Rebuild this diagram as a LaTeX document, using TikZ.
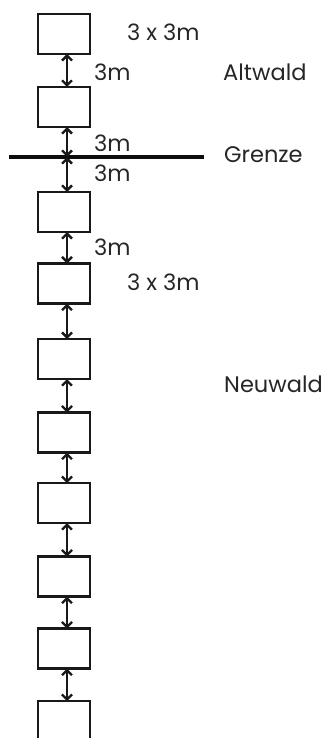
\documentclass[tikz,border=0pt]{standalone}
\usepackage{fontspec}
\setmainfont{Poppins}
\usetikzlibrary{arrows.meta}
\begin{document}
\begin{tikzpicture}[x=1pt,y=-1pt,
  plot/.style={draw=black!90,line width=2.6pt,minimum width=52pt,minimum height=40pt,inner sep=0pt,outer sep=0pt},
  arr/.style={line width=2.3pt,draw=black!90,{Straight Barb[length=5pt,width=10pt]}-{Straight Barb[length=5pt,width=10pt]}},
  lbl/.style={font=\fontsize{22.5}{26}\selectfont,inner sep=0pt,anchor=west,text=black!85}]
\useasboundingbox (0,0) rectangle (331,738);
\begin{scope}
\clip (0,0) rectangle (331,738);
\foreach \n/\y in {1/34,2/107,3/212,4/283.5,5/359,6/432.5,7/503,8/576.5,9/648.5,10/721}
  \node[plot] (b\n) at (64,\y) {};
\end{scope}
\coordinate (gl) at (9,157);
\coordinate (gr) at (204,157);
\coordinate (gm) at (67,157);
\draw[line width=4.5pt,black!95] (gl) -- (gr);
\draw[arr] ([xshift=3pt]b1.south) -- ([xshift=3pt]b2.north);
\draw[arr] ([xshift=3pt]b2.south) -- (gm);
\draw[arr] (gm) -- ([xshift=3pt]b3.north);
\foreach \a/\b in {3/4,4/5,5/6,6/7,7/8,8/9,9/10}
  \draw[arr] ([xshift=3pt]b\a.south) -- ([xshift=3pt]b\b.north);
\node[lbl] (t1) at (127,32) {3 x 3m};
\node[lbl] (t2) at (94,72) {3m};
\node[lbl] (t3) at (223,72) {Altwald};
\node[lbl] (t4) at (94,143) {3m};
\node[lbl] (t5) at (224,155) {Grenze};
\node[lbl] (t6) at (94,173) {3m};
\node[lbl] (t7) at (94,247) {3m};
\node[lbl] (t8) at (127,282) {3 x 3m};
\node[lbl] (t9) at (224,384) {Neuwald};
\end{tikzpicture}
\end{document}
